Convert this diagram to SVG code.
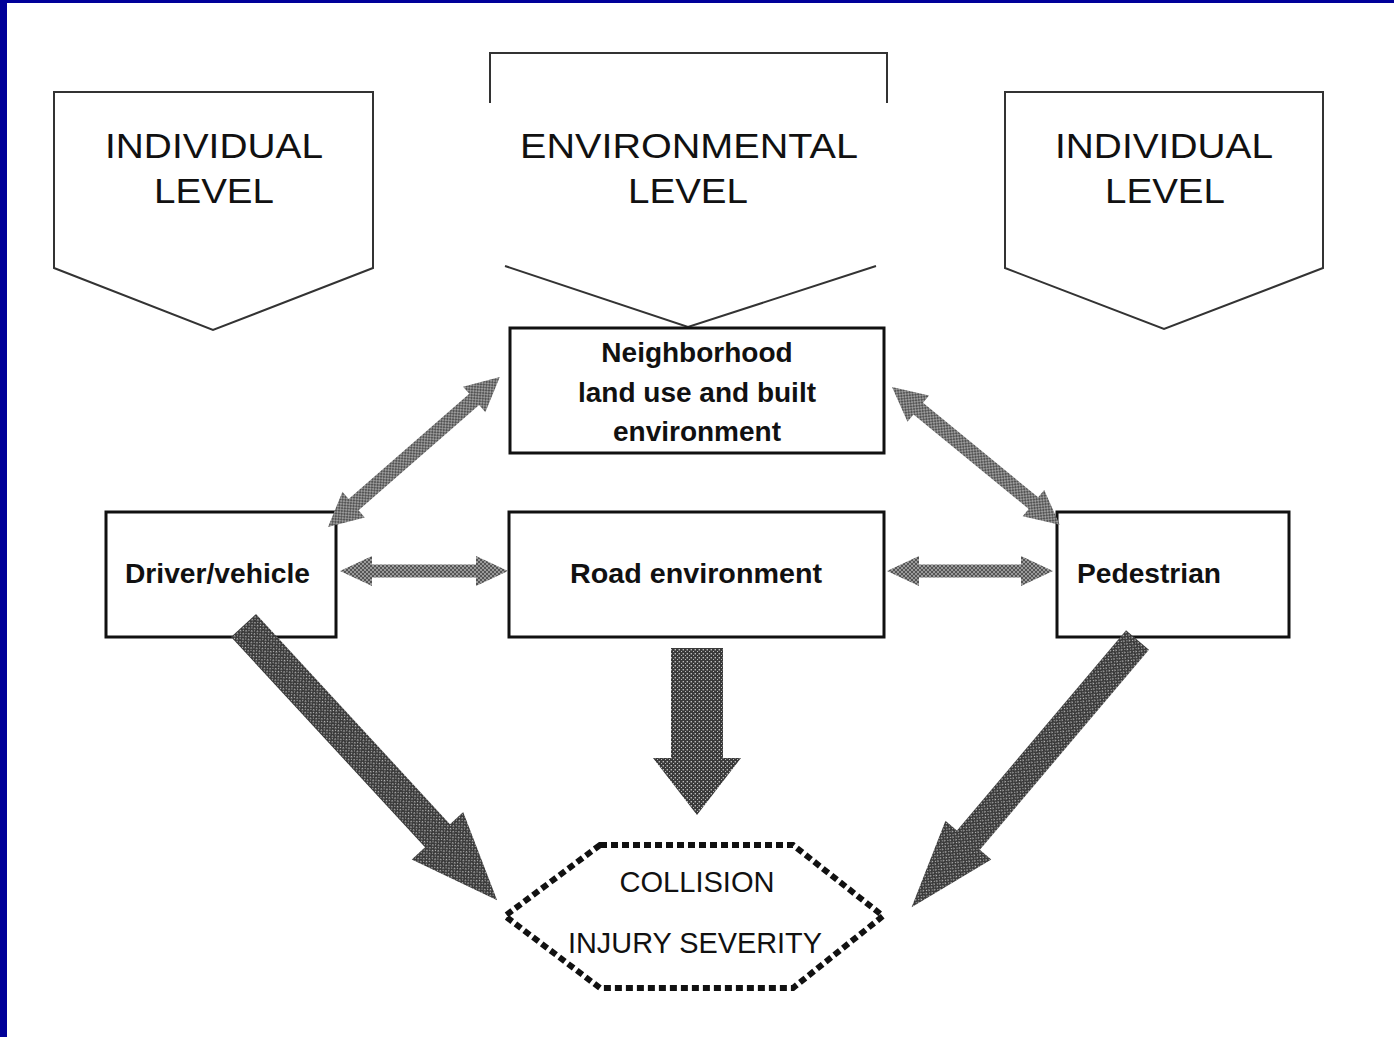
<svg xmlns="http://www.w3.org/2000/svg" width="1394" height="1037" viewBox="0 0 1394 1037">
<defs>
<style>
.lvl{font-family:"Liberation Sans",Arial,sans-serif;font-size:35px;fill:#111;text-anchor:middle}
.box{fill:#fff;stroke:#111;stroke-width:3}
.bt{font-family:"Liberation Sans",Arial,sans-serif;font-size:28px;font-weight:bold;fill:#111}
.ct{font-family:"Liberation Sans",Arial,sans-serif;font-size:30px;fill:#111;text-anchor:middle}
.pent{fill:none;stroke:#333;stroke-width:2}
</style>
<pattern id="pl" width="4" height="4" patternUnits="userSpaceOnUse">
<rect width="4" height="4" fill="#9a9a9a"/>
<rect x="0" y="0" width="2" height="2" fill="#555"/>
<rect x="2" y="2" width="2" height="2" fill="#555"/>
</pattern>
<pattern id="pd" width="4" height="4" patternUnits="userSpaceOnUse">
<rect width="4" height="4" fill="#3a3a3a"/>
<rect x="1" y="1" width="1.4" height="1.4" fill="#bbb"/>
<rect x="3" y="3" width="1.4" height="1.4" fill="#bbb"/>
</pattern>
</defs>
<rect width="1394" height="1037" fill="#fff"/>
<rect x="0" y="0" width="7" height="1037" fill="#000099"/>
<rect x="0" y="0" width="1394" height="3" fill="#000099"/>

<g id="level-left">
<path class="pent" d="M54,268 V92 H373 V268 L213,330 Z"/>
<text class="lvl" x="214" y="158" textLength="218" lengthAdjust="spacingAndGlyphs">INDIVIDUAL</text>
<text class="lvl" x="214" y="203" textLength="120" lengthAdjust="spacingAndGlyphs">LEVEL</text>
</g>
<g id="level-env">
<path class="pent" stroke-width="2.5" d="M490,103 V53 H887 V103"/>
<path class="pent" stroke-width="2.5" d="M505,266 L688,327 L876,266"/>
<text class="lvl" x="689" y="158" textLength="338" lengthAdjust="spacingAndGlyphs">ENVIRONMENTAL</text>
<text class="lvl" x="688" y="203" textLength="120" lengthAdjust="spacingAndGlyphs">LEVEL</text>
</g>
<g id="level-right">
<path class="pent" d="M1005,268 V92 H1323 V268 L1164,329 Z"/>
<text class="lvl" x="1164" y="158" textLength="218" lengthAdjust="spacingAndGlyphs">INDIVIDUAL</text>
<text class="lvl" x="1165" y="203" textLength="120" lengthAdjust="spacingAndGlyphs">LEVEL</text>
</g>

<g id="neighborhood">
<rect class="box" x="510" y="328" width="374" height="125"/>
<text class="bt" x="697" y="362" text-anchor="middle">Neighborhood</text>
<text class="bt" x="697" y="402" text-anchor="middle">land use and built</text>
<text class="bt" x="697" y="441" text-anchor="middle">environment</text>
</g>
<g id="driver">
<rect class="box" x="106" y="512" width="230" height="125"/>
<text class="bt" x="125" y="583" textLength="185" lengthAdjust="spacingAndGlyphs">Driver/vehicle</text>
</g>
<g id="road">
<rect class="box" x="509" y="512" width="375" height="125"/>
<text class="bt" x="696" y="583" text-anchor="middle" textLength="252" lengthAdjust="spacingAndGlyphs">Road environment</text>
</g>
<g id="pedestrian">
<rect class="box" x="1057" y="512" width="232" height="125"/>
<text class="bt" x="1077" y="583" textLength="144" lengthAdjust="spacingAndGlyphs">Pedestrian</text>
</g>

<g id="connectors">
<polygon fill="url(#pl)" transform="translate(328,527) rotate(-41.1)" points="0,0 34,-17 34,-7.5 194,-7.5 194,-17 228,0 194,17 194,7.5 34,7.5 34,17"/>
<polygon fill="url(#pl)" transform="translate(892,387) rotate(39.4)" points="0,0 34,-17 34,-7.5 183,-7.5 183,-17 217,0 183,17 183,7.5 34,7.5 34,17"/>
<polygon fill="url(#pl)" transform="translate(340,571)" points="0,0 32,-15 32,-6.5 136,-6.5 136,-15 168,0 136,15 136,6.5 32,6.5 32,15"/>
<polygon fill="url(#pl)" transform="translate(887,571)" points="0,0 32,-15 32,-6.5 134,-6.5 134,-15 166,0 134,15 134,6.5 32,6.5 32,15"/>
<polygon fill="url(#pd)" transform="translate(697,648) rotate(90)" points="0,-26 110,-26 110,-44 167,0 110,44 110,26 0,26"/>
<polygon fill="url(#pd)" transform="translate(243.5,625.5) rotate(47.3)" points="0,-17 286,-17 286,-35 374,0 286,35 286,17 0,17"/>
<polygon fill="url(#pd)" transform="translate(1137.5,640) rotate(130.2)" points="0,-15 262,-15 262,-30 350,0 262,30 262,15 0,15"/>
</g>

<g id="collision">
<polygon points="600,845 793,845 883,916 793,988 600,988 505,916" fill="none" stroke="#111" stroke-width="6" stroke-dasharray="7 4"/>
<text class="ct" x="697" y="892" textLength="155" lengthAdjust="spacingAndGlyphs">COLLISION</text>
<text class="ct" x="695" y="953" textLength="254" lengthAdjust="spacingAndGlyphs">INJURY SEVERITY</text>
</g>
</svg>
